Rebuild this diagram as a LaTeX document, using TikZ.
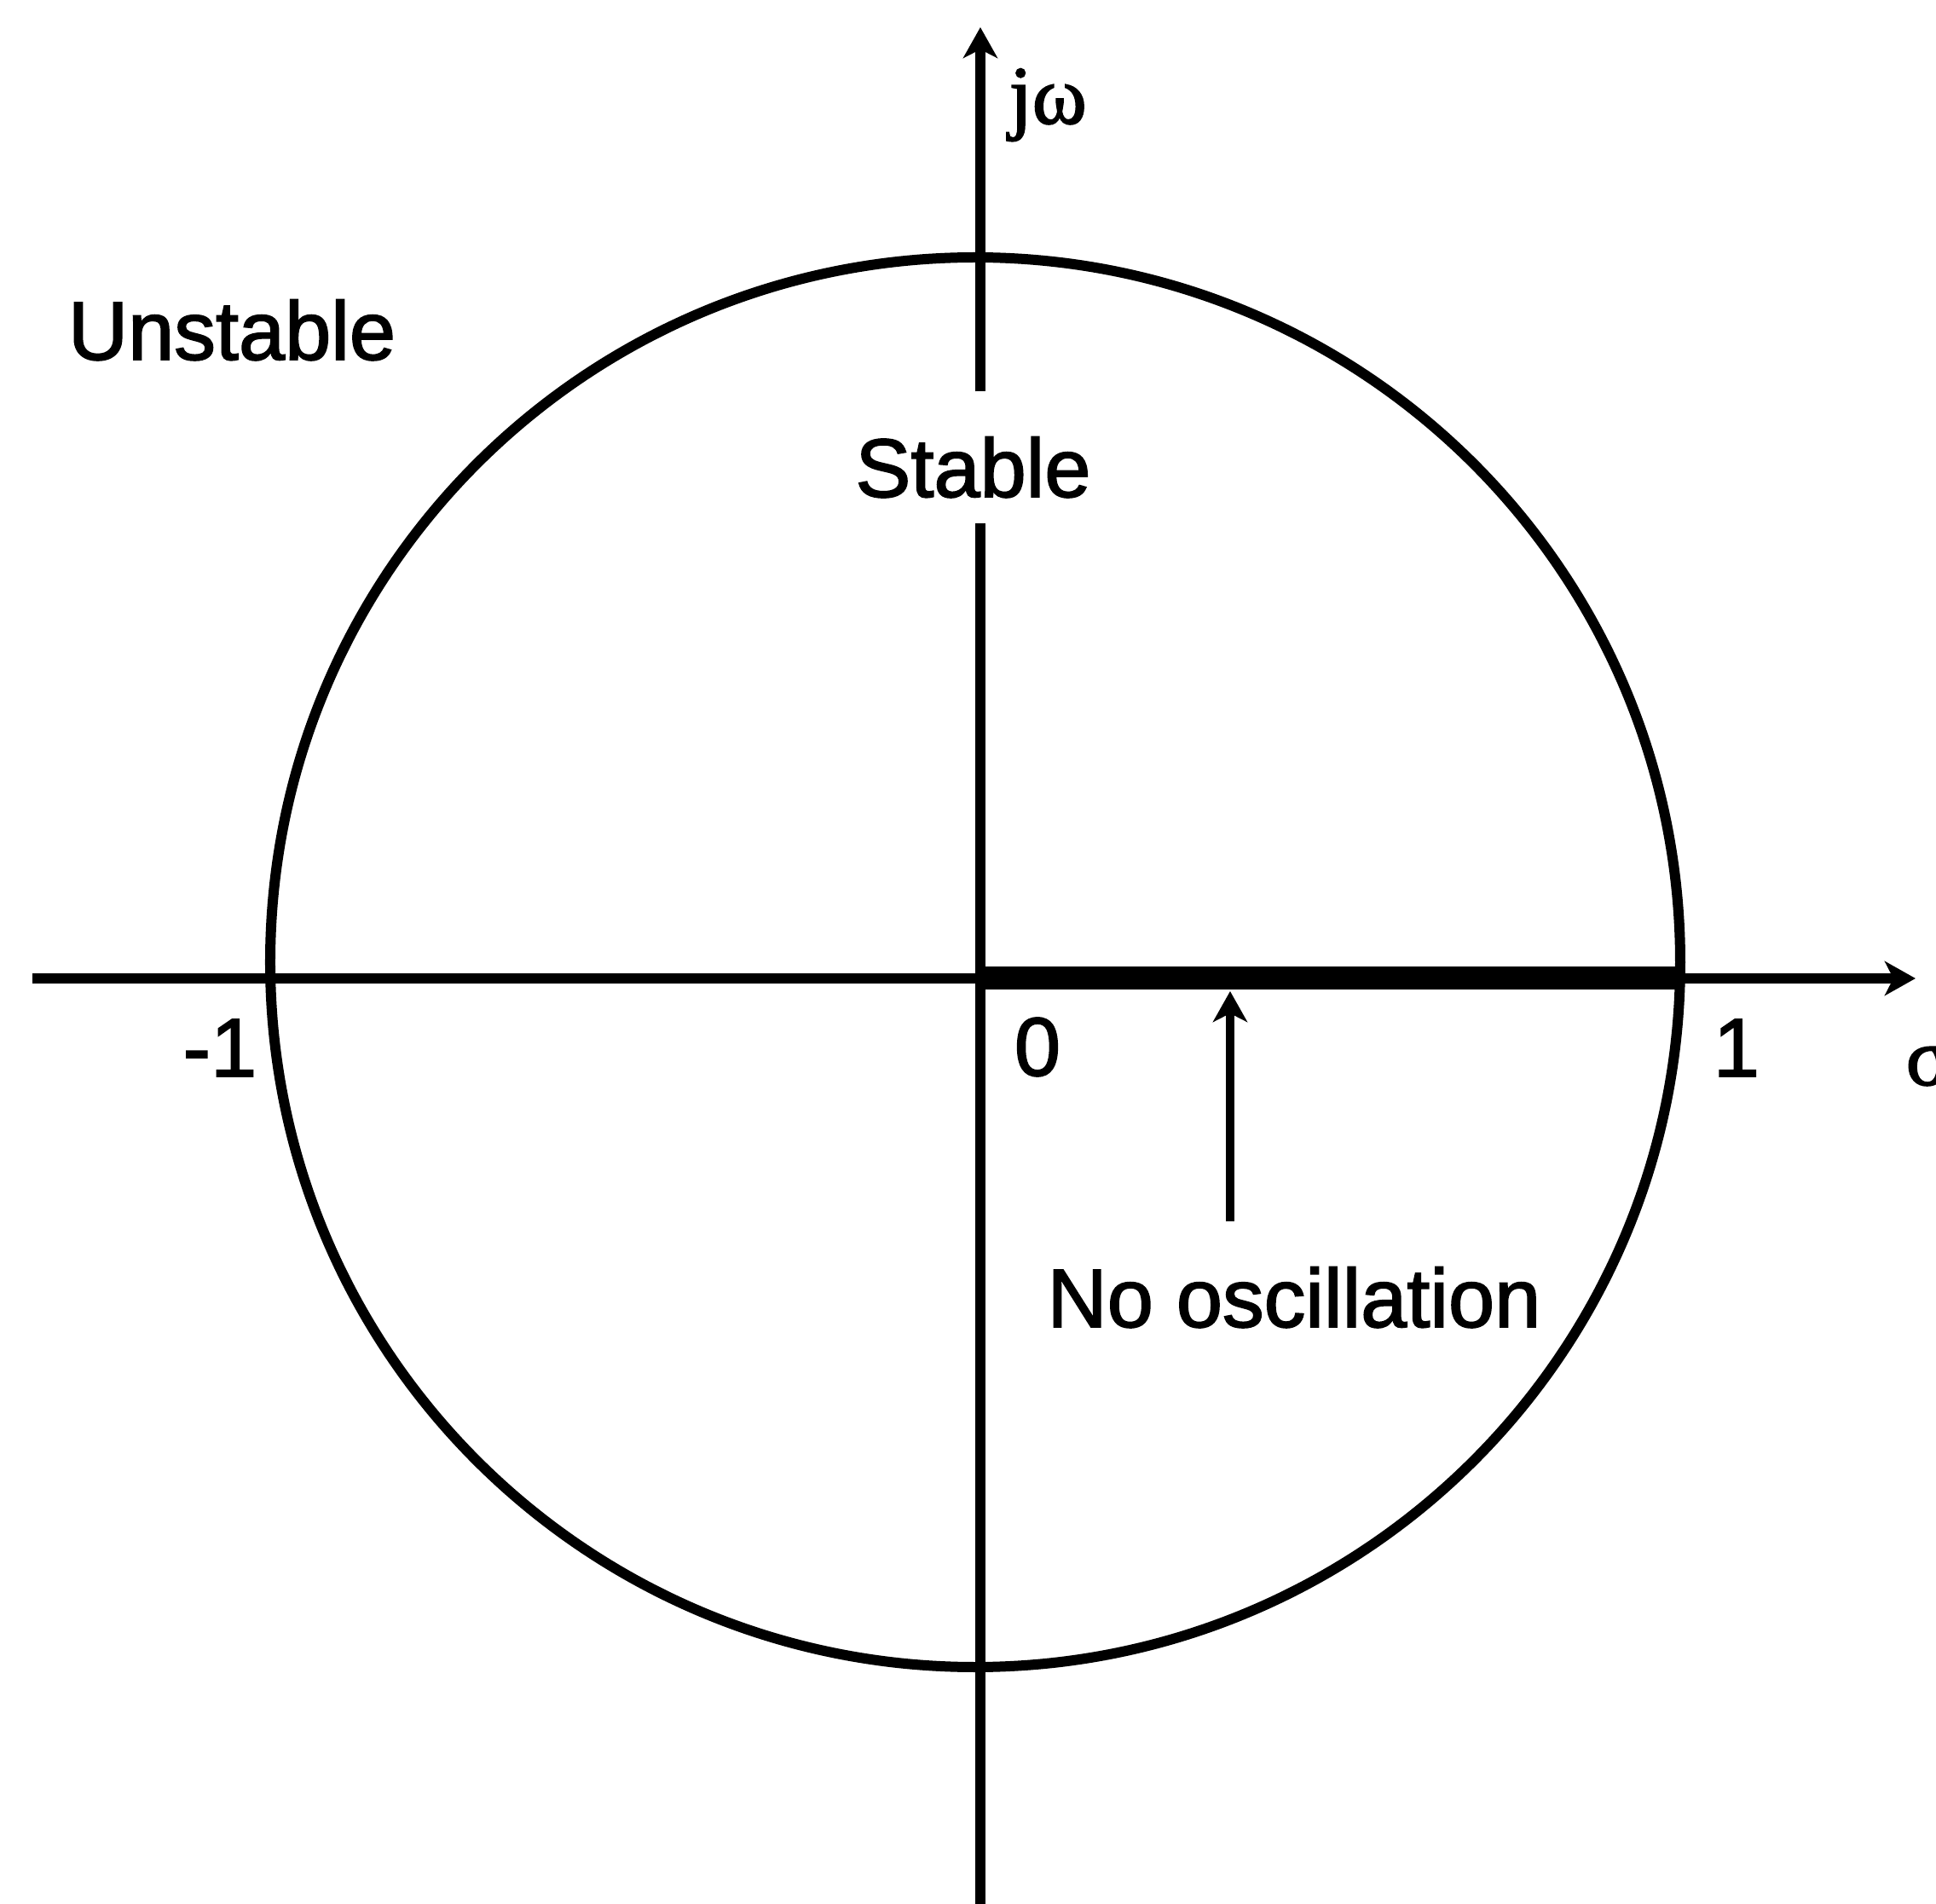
\documentclass[tikz,border=0pt]{standalone}
\usepackage{fontspec}
\setmainfont{Liberation Sans}[BoldFont={Liberation Sans}, BoldFeatures={FakeBold=1.8}]
\newfontfamily\greekserif{Liberation Serif}[BoldFont={Liberation Serif}, BoldFeatures={FakeBold=1.8}]
\usetikzlibrary{arrows.meta,positioning}

\begin{document}
\begin{tikzpicture}[
    lbl/.style={inner sep=0pt, font=\fontsize{27.7pt}{33pt}\selectfont\bfseries},
    axis/.style={line width=0.12cm},
    arr/.style={-{Stealth[length=0.36cm, width=0.4cm, inset=0.1cm]}}
]
\useasboundingbox (-11.50,-10.86) rectangle (11.21,11.48);

\node[draw, circle, line width=0.12cm, minimum size=16.54cm, inner sep=0pt, outer sep=0pt] (ucirc) at (-0.06,0.19) {};

\coordinate (o) at (0,0);
\coordinate (xl) at (-11.12,0);
\coordinate (xr) at (10.97,0);
\coordinate (yb) at (0,-11);
\coordinate (yt) at (0,11.16);
\coordinate (tail) at (2.93,-2.85);
\coordinate (tip) at (2.93,-0.15);

\node[lbl, anchor=base] (unst) at (-8.78,7.26) {Unstable};
\node[lbl, anchor=base, inner ysep=0.3cm, text height=0.93cm, text depth=0pt] (stab) at (-0.085,5.65) {Stable};
\node[lbl, anchor=base] (noosc) at (3.68,-4.09) {No oscillation};
\node[lbl, anchor=base] (m1) at (-8.92,-1.15) {-1};
\node[lbl, anchor=base] (zero) at (0.67,-1.14) {0};
\node[lbl, anchor=base] (p1) at (8.87,-1.15) {1};
\node[lbl, anchor=base west, font=\fontsize{27.7pt}{33pt}\greekserif\bfseries] (jw) at (0.33,10.03) {jω};
\node[lbl, anchor=base west, font=\fontsize{27.7pt}{33pt}\greekserif\bfseries] (sig) at (10.85,-1.25) {σ};

\draw[axis, arr] (xl) -- (xr);
\draw[axis] (yb) -- (stab.south -| o);
\draw[axis, arr] (stab.north -| o) -- (yt);
\draw[line width=0.27cm] (o) -- (o -| ucirc.east);
\draw[arr, line width=0.1cm] (tail) -- (tip);
\end{tikzpicture}
\end{document}
